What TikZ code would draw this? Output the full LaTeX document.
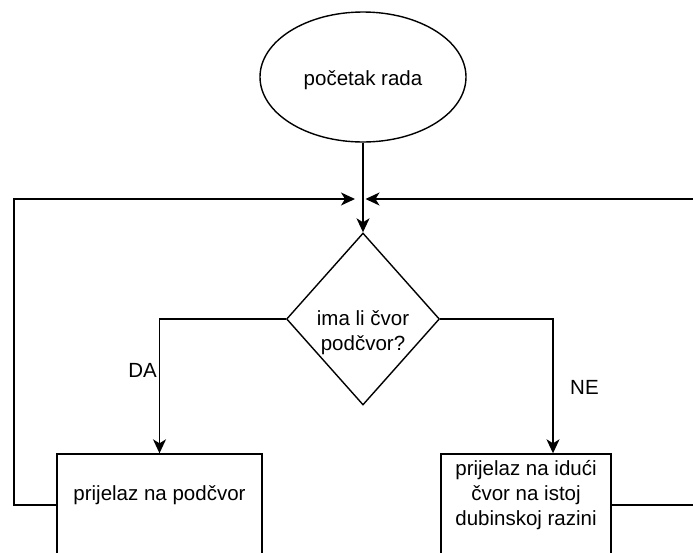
\documentclass[tikz,border=0pt]{standalone}
\usepackage{fontspec}
\setmainfont{Liberation Sans}
\usetikzlibrary{arrows.meta,shapes.geometric}
\begin{document}
\begin{tikzpicture}[x=1pt,y=-1pt,
  line/.style={draw=black,line width=1.4pt},
  arr/.style={line,-{Stealth[length=14pt,width=13pt,inset=4pt]}},
  lbl/.style={font=\fontsize{20.5}{25}\selectfont,align=center,inner sep=0pt},
  startnode/.style={ellipse,draw,line width=1.4pt,minimum width=206pt,minimum height=130pt,inner sep=0pt},
  decision/.style={diamond,draw,line width=1.4pt,minimum width=153pt,minimum height=172pt,inner sep=0pt},
  procbox/.style={rectangle,draw,line width=1.4pt,inner sep=0pt}]
\useasboundingbox (0,0) rectangle (693,552);
% nodes
\node[startnode] (start) at (363,77) {};
\node[lbl] (starttxt) at (363,80) {početak rada};
\node[decision] (dec) at (363,319) {};
\node[lbl] (dectxt) at (363,333) {ima li čvor\\podčvor?};
\node[procbox,minimum width=205pt,minimum height=166pt] (lbox) at (159.5,537) {};
\node[lbl] (ltxt) at (159.5,495) {prijelaz na podčvor};
\node[procbox,minimum width=170pt,minimum height=166pt] (rbox) at (526,537) {};
\node[lbl] (rtxt) at (526,495) {prijelaz na idući\\čvor na istoj\\dubinskoj razini};
\coordinate (tipL) at (355,199);
\coordinate (tipR) at (365.5,199);
\coordinate (farR) at (740,505);
% connectors
\draw[arr] (start.south) -- (dec.north);
\draw[arr] (dec.west) -| (lbox.north);
\draw[arr] (dec.east) -| ([xshift=27pt]rbox.north);
\draw[arr] ([yshift=32pt]lbox.west) -- (14,505) |- (tipL);
\draw[arr] ([yshift=32pt]rbox.east) -- (farR) |- (tipR);
% labels
\node[lbl,anchor=east] (da) at (157,370) {DA};
\node[lbl,anchor=west] (ne) at (570,387) {NE};
\end{tikzpicture}
\end{document}
